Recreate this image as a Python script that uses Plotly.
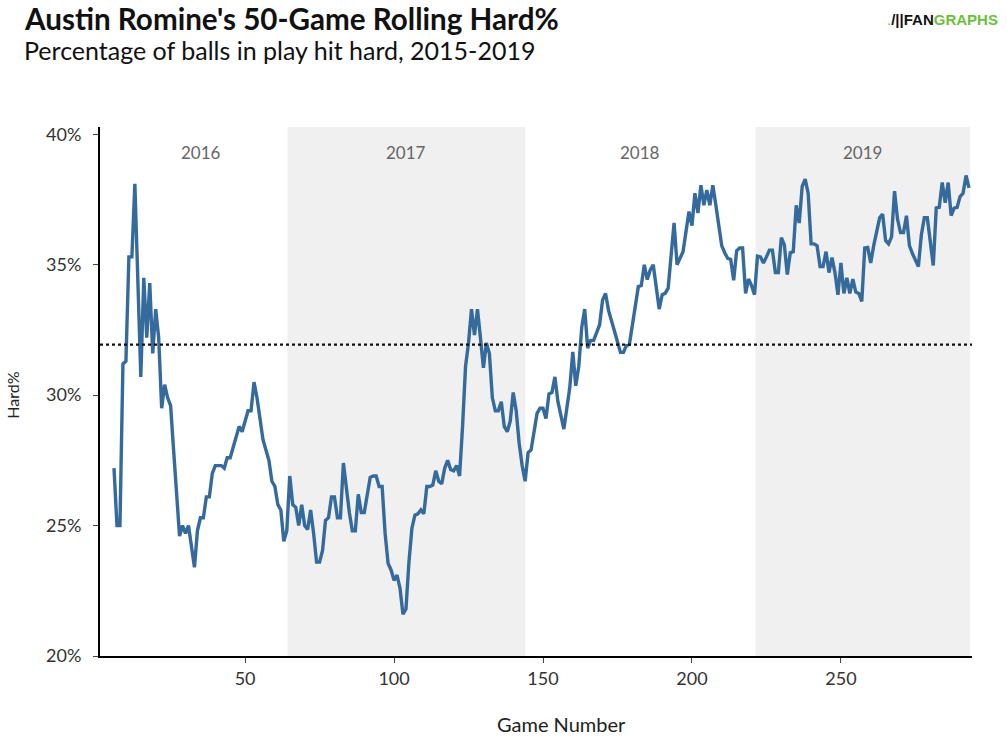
import plotly.graph_objects as go

# ---------------- data ----------------
first_game = 6
hard_pct = [
    27.2, 25.0, 25.0, 31.2, 31.3, 35.3, 35.3, 38.1, 34.4, 30.7,   # 6-15
    34.5, 32.2, 34.3, 31.6, 33.3, 32.2, 29.5, 30.4, 29.9, 29.6,   # 16-25
    27.9, 26.2, 24.6, 25.0, 24.7, 25.0, 24.2, 23.4, 24.8, 25.3,   # 26-35
    25.3, 26.1, 26.1, 27.0, 27.3, 27.3, 27.3, 27.2, 27.6, 27.6,   # 36-45
    28.0, 28.4, 28.8, 28.6, 29.0, 29.4, 29.4, 30.5, 29.9, 29.1,   # 46-55
    28.3, 27.9, 27.5, 26.7, 26.5, 25.8, 25.6, 24.4, 24.8, 26.9,   # 56-65
    25.8, 25.7, 25.0, 25.8, 25.0, 24.85, 25.6, 24.7, 23.6, 23.6,  # 66-75
    24.05, 25.2, 25.3, 26.1, 26.1, 25.3, 25.3, 27.4, 26.3, 25.5,  # 76-85
    24.8, 24.8, 26.2, 25.5, 25.5, 26.1, 26.85, 26.9, 26.9, 26.5,  # 86-95
    26.5, 24.7, 23.55, 23.3, 22.9, 23.1, 22.6, 21.6, 21.8, 23.6,  # 96-105
    24.9, 25.4, 25.45, 25.6, 25.45, 26.5, 26.5, 26.55, 27.1, 26.7,  # 106-115
    26.6, 27.2, 27.5, 27.15, 27.1, 27.3, 26.9, 28.8, 31.1, 32.0,  # 116-125
    33.3, 32.3, 33.3, 32.2, 31.05, 32.0, 31.6, 29.9, 29.4, 29.4,  # 126-135
    29.75, 28.8, 28.6, 29.0, 30.1, 29.4, 28.15, 27.3, 26.7, 27.8,  # 136-145
    27.9, 28.6, 29.3, 29.5, 29.5, 29.1, 30.05, 30.1, 30.7, 29.76,  # 146-155
    29.2, 28.7, 29.5, 30.3, 31.66, 30.36, 31.1, 32.6, 33.3, 31.8,  # 156-165
    32.1, 32.1, 32.4, 32.7, 33.65, 33.9, 33.25, 32.9, 32.45, 32.05,  # 166-175
    31.64, 31.64, 31.9, 31.95, 32.74, 33.5, 34.16, 34.2, 35.0, 34.43,  # 176-185
    34.8, 35.0, 34.06, 33.3, 33.85, 33.9, 34.1, 35.46, 36.6, 35.0,  # 186-195
    35.27, 35.5, 36.27, 37.04, 36.5, 37.74, 36.98, 38.05, 37.28, 37.86,  # 196-205
    37.28, 38.05, 37.3, 36.5, 35.73, 35.46, 35.24, 35.2, 34.4, 35.53,  # 206-215
    35.64, 35.64, 33.9, 34.45, 34.2, 33.85, 35.33, 35.3, 35.07, 35.3,  # 216-225
    35.56, 35.56, 34.7, 34.7, 36.04, 35.77, 34.62, 35.46, 35.5, 37.28,  # 226-235
    36.6, 38.0, 38.28, 37.74, 35.8, 35.8, 35.73, 34.93, 34.93, 35.5,  # 236-245
    34.7, 35.27, 34.7, 33.85, 35.07, 33.9, 34.5, 33.9, 34.45, 33.95,  # 246-255
    33.9, 33.59, 35.64, 35.66, 35.07, 35.73, 36.34, 36.8, 36.94, 35.93,  # 256-265
    35.8, 36.07, 37.82, 36.75, 36.23, 36.23, 36.88, 35.73, 35.43, 35.16,  # 266-275
    34.93, 36.14, 36.8, 36.8, 35.93, 34.97, 37.18, 37.2, 38.15, 37.38,  # 276-285
    38.15, 36.88, 37.17, 37.2, 37.61, 37.74, 38.42, 37.95,               # 286-293
]
games = list(range(first_game, first_game + len(hard_pct)))

career_avg = 31.94

years = ["2016", "2017", "2018", "2019"]
year_start = [6.5, 64.2, 144.1, 221.3]
year_end = [64.2, 144.1, 221.3, 293.4]
year_shaded = [False, True, False, True]

x_ticks = [50, 100, 150, 200, 250]
y_ticks = [20, 25, 30, 35, 40]
y_tick_text = ["20%", "25%", "30%", "35%", "40%"]

title = "Austin Romine's 50-Game Rolling Hard%"
subtitle = "Percentage of balls in play hit hard, 2015-2019"

# ---------------- figure ----------------
FONT = "Lato"
fig = go.Figure()

fig.add_trace(go.Scatter(
    x=games, y=hard_pct, mode="lines",
    line=dict(color="#356a9d", width=3.4),
    hoverinfo="skip", showlegend=False,
))

shapes = []
annotations = []
for yr, s, e, sh in zip(years, year_start, year_end, year_shaded):
    if sh:
        shapes.append(dict(type="rect", xref="x", yref="paper", x0=s, x1=e,
                           y0=0, y1=1, fillcolor="#f0f0f0", line=dict(width=0),
                           layer="below"))
    annotations.append(dict(text=yr, xref="x", yref="paper", x=(s + e) / 2,
                            y=0.951, showarrow=False, xanchor="center",
                            yanchor="middle",
                            font=dict(family=FONT, size=17, color="#666666")))

shapes.append(dict(type="line", xref="paper", yref="y", x0=0, x1=1,
                   y0=career_avg, y1=career_avg,
                   line=dict(color="#111111", width=2.2, dash="dot")))

annotations += [
    dict(text="<b>" + title + "</b>", xref="paper", yref="paper",
         x=-0.0894, y=1.2045, xanchor="left", yanchor="middle", showarrow=False,
         font=dict(family=FONT, size=29.6, color="#111111")),
    dict(text=subtitle, xref="paper", yref="paper",
         x=-0.0894, y=1.1456, xanchor="left", yanchor="middle", showarrow=False,
         font=dict(family=FONT, size=25, color="#111111")),
    dict(text="Game Number", xref="paper", yref="paper",
         x=0.529, y=-0.1285, xanchor="center", yanchor="middle", showarrow=False,
         font=dict(family=FONT, size=20, color="#222222")),
    dict(text="Hard%", xref="paper", yref="paper", textangle=-90,
         x=-0.0998, y=0.494, xanchor="center", yanchor="middle", showarrow=False,
         font=dict(family=FONT, size=16, color="#222222")),
    dict(text="<span style='color:#6cbf3c'>.</span><b>/||</b><b>FAN</b>"
              "<b><span style='color:#6cbf3c'>GRAPHS</span></b>",
         xref="paper", yref="paper", x=1.0321, y=1.2023,
         xanchor="right", yanchor="middle", showarrow=False,
         font=dict(family="Liberation Sans", size=15, color="#111111")),
]

fig.update_layout(
    width=1007, height=740,
    margin=dict(l=100, r=35, t=127, b=84),
    paper_bgcolor="white", plot_bgcolor="white",
    hovermode=False,
    shapes=shapes, annotations=annotations,
    font=dict(family=FONT, size=18, color="#333333"),
    xaxis=dict(range=[1.3, 294], tickvals=x_ticks, showgrid=False,
               zeroline=False, showline=True, linecolor="black", linewidth=2,
               ticks="outside", ticklen=5, tickcolor="#444444", tickwidth=1,
               tickfont=dict(family=FONT, size=18, color="#333333")),
    yaxis=dict(range=[20, 40.28], tickvals=y_ticks, ticktext=y_tick_text,
               showgrid=False, zeroline=False, showline=True,
               linecolor="black", linewidth=2, ticks="outside", ticklen=5,
               tickcolor="#444444", tickwidth=1, ticklabelstandoff=8,
               tickfont=dict(family=FONT, size=18, color="#333333")),
)

# remove the browser's default 8px page margin so the figure fills the window
fig.write_html("out.html",
               config={"displayModeBar": False},
               post_script="document.body.style.margin='0px';")
